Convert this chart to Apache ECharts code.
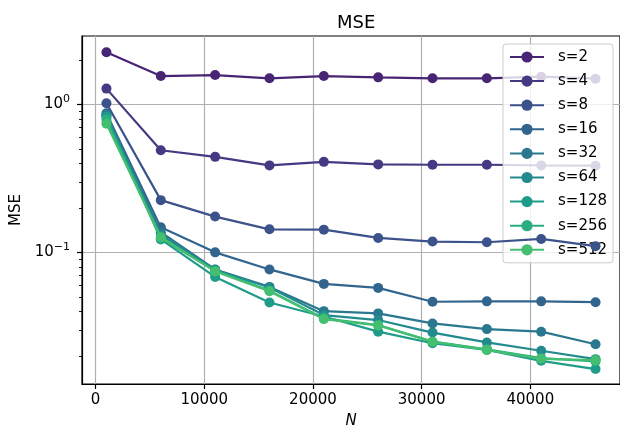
<!DOCTYPE html>
<html lang="en">
<head>
    <meta charset="UTF-8">
    <title>MSE</title>
    <script src="https://cdn.jsdelivr.net/npm/echarts@6/dist/echarts.min.js"></script>
    <style>
        html, body { margin: 0; padding: 0; background: #fff; }
        #main { width: 620px; height: 434px; }
    </style>
</head>
<body>
    <div id="main"></div>
    <script>
        // sample sizes on the x axis
        var nValues = [1000, 6000, 11000, 16000, 21000, 26000, 31000, 36000, 41000, 46000];
        var seriesNames = ['s=2', 's=4', 's=8', 's=16', 's=32', 's=64', 's=128', 's=256', 's=512'];

        // MSE per s
        var mseS2 = [2.258, 1.558, 1.582, 1.503, 1.558, 1.526, 1.503, 1.503, 1.542, 1.495];
        var mseS4 = [1.281, 0.491, 0.443, 0.388, 0.410, 0.394, 0.392, 0.392, 0.388, 0.386];
        var mseS8 = [1.021, 0.226, 0.175, 0.1435, 0.1428, 0.1255, 0.1186, 0.1174, 0.1236, 0.1104];
        var mseS16 = [0.873, 0.148, 0.1003, 0.0769, 0.0614, 0.0577, 0.0465, 0.0468, 0.0468, 0.0462];
        var mseS32 = [0.853, 0.1371, 0.0769, 0.0586, 0.0402, 0.0388, 0.0332, 0.0304, 0.0292, 0.0240];
        var mseS64 = [0.840, 0.1315, 0.0765, 0.0580, 0.0378, 0.0350, 0.0288, 0.0247, 0.0217, 0.01905];
        var mseS128 = [0.827, 0.1227, 0.0684, 0.0460, 0.0370, 0.0292, 0.0244, 0.0220, 0.01856, 0.01632];
        var mseS256 = [0.789, 0.1255, 0.0754, 0.0553, 0.0359, 0.0324, 0.0250, 0.0222, 0.01935, 0.01838];
        var mseS512 = [0.742, 0.1269, 0.0746, 0.0547, 0.0355, 0.0322, 0.0250, 0.0220, 0.01914, 0.01876];

        // tick positions / labels
        var xTicks = [0, 10000, 20000, 30000, 40000];
        var yTicks = [0.1, 1];
        var yTickLabels = ['{b|10}{s|−1}', '{b|10}{s|0}'];
        var yMinorTicks = [0.02, 0.03, 0.04, 0.05, 0.06, 0.07, 0.08, 0.09,
            0.2, 0.3, 0.4, 0.5, 0.6, 0.7, 0.8, 0.9, 2];

        var allSeries = [mseS2, mseS4, mseS8, mseS16, mseS32, mseS64, mseS128, mseS256, mseS512];
        // viridis samples
        var colors = ['#482475', '#443a83', '#3b528b', '#32658e', '#2a788e', '#238a8d', '#1e9c89', '#28ae80', '#44bf70'];

        var font = 'DejaVu Sans';

        var myChart = echarts.init(document.getElementById('main'));

        var series = allSeries.map(function (vals, i) {
            return {
                name: seriesNames[i],
                type: 'line',
                yAxisIndex: 0,
                data: vals.map(function (v, j) { return [nValues[j], v]; }),
                symbol: 'circle',
                symbolSize: 10,
                showSymbol: true,
                color: colors[i],
                lineStyle: { width: 2.2, color: colors[i] },
                itemStyle: { color: colors[i] },
                emphasis: { disabled: true },
                z: 2 + i
            };
        });

        var option = {
            animation: false,
            backgroundColor: '#fff',
            title: {
                text: 'MSE',
                left: 332,
                top: 9,
                textStyle: { fontFamily: font, fontSize: 18, fontWeight: 'normal', color: '#000' }
            },
            legend: {
                orient: 'vertical',
                left: 503,
                top: 44,
                itemWidth: 34,
                itemHeight: 14,
                itemGap: 8.1,
                padding: [5, 6, 5, 6],
                backgroundColor: 'rgba(255,255,255,0.8)',
                borderColor: '#cccccc',
                borderWidth: 1,
                borderRadius: 3,
                selectedMode: false,
                textStyle: { fontFamily: font, fontSize: 15, color: '#000', padding: [0, 0, 0, 9], lineHeight: 16 },
                data: seriesNames
            },
            grid: {
                left: 82,
                top: 36,
                width: 541,
                height: 350,
                show: true,
                borderColor: '#000',
                borderWidth: 1.2,
                containLabel: false
            },
            xAxis: {
                type: 'value',
                min: -1250,
                max: 48250,
                name: 'N',
                nameLocation: 'middle',
                nameGap: 30,
                nameTextStyle: { fontFamily: font, fontSize: 15, fontStyle: 'italic', color: '#000' },
                axisLine: { show: true, onZero: false, lineStyle: { color: '#000', width: 1.2 } },
                axisTick: { show: true, length: 5, lineStyle: { color: '#000', width: 1.2 }, customValues: xTicks },
                axisLabel: {
                    customValues: xTicks,
                    margin: 9,
                    fontFamily: font, fontSize: 15, color: '#000',
                    formatter: function (v) { return String(v); }
                },
                splitLine: { show: true, lineStyle: { color: '#b0b0b0', width: 1.2 } }
            },
            yAxis: [{
                type: 'log',
                logBase: 10,
                min: 0.01294,
                max: 2.904,
                name: 'MSE',
                nameLocation: 'middle',
                nameGap: 58,
                nameRotate: 90,
                nameTextStyle: { fontFamily: font, fontSize: 15, color: '#000' },
                axisLine: { show: true, onZero: false, lineStyle: { color: '#000', width: 1.2 } },
                axisTick: { show: true, length: 5, lineStyle: { color: '#000', width: 1.2 }, customValues: yTicks },
                axisLabel: {
                    customValues: yTicks,
                    margin: 12,
                    fontFamily: font, color: '#000',
                    formatter: function (v) {
                        var k = yTicks.indexOf(v);
                        return k >= 0 ? yTickLabels[k] : '';
                    },
                    rich: {
                        b: { fontFamily: font, fontSize: 15, color: '#000' },
                        s: { fontFamily: font, fontSize: 11, color: '#000', padding: [0, 0, 10, 0] }
                    }
                },
                splitLine: { show: true, lineStyle: { color: '#b0b0b0', width: 1.2 } }
            }, {
                // minor ticks only
                type: 'log',
                logBase: 10,
                min: 0.01294,
                max: 2.904,
                position: 'left',
                axisLine: { show: false, onZero: false },
                axisTick: { show: true, length: 3, lineStyle: { color: '#000', width: 0.9 }, customValues: yMinorTicks },
                axisLabel: { show: false },
                splitLine: { show: false }
            }],
            series: series
        };

        myChart.setOption(option);
    </script>
</body>
</html>
